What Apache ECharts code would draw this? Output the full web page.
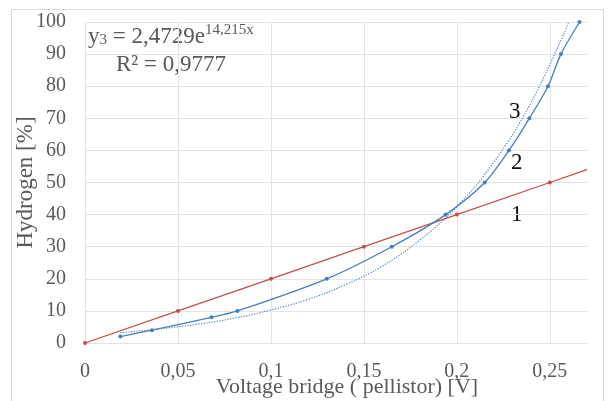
<!DOCTYPE html>
<html><head><meta charset="utf-8">
<script src="https://cdn.jsdelivr.net/npm/echarts@6/dist/echarts.min.js"></script>
<style>html,body{margin:0;padding:0;background:#fff}#c{width:613px;height:401px}</style>
</head><body><div id="c"></div>
<script>
// Series 1 (red, linear)
const s1X = [0, 0.05, 0.1, 0.15, 0.2, 0.25, 0.27];
const s1Y = [0, 10, 20, 30, 40, 50, 54];
const s1Marked = [true, true, true, true, true, true, false];
// Series 2 (blue, measured)
const s2X = [0.019, 0.036, 0.068, 0.082, 0.130, 0.165, 0.194, 0.215, 0.228, 0.239, 0.249, 0.256, 0.266];
const s2Y = [2, 4, 8, 10, 20, 30, 40, 50, 60, 70, 80, 90, 100];
// Series 3 (dotted exponential trend)
const s3X = [0.019, 0.04, 0.06, 0.08, 0.1, 0.12, 0.14, 0.16, 0.18, 0.2, 0.22, 0.24, 0.26];
const s3Y = [3.2, 4.4, 5.8, 7.7, 10.3, 13.6, 18.1, 24.0, 32.0, 42.5, 56.4, 75.0, 99.6];
const xTicks = [0, 0.05, 0.1, 0.15, 0.2, 0.25];
const yTicks = [0, 10, 20, 30, 40, 50, 60, 70, 80, 90, 100];

const FONT = '"Liberation Serif","Times New Roman",serif';
const GRAY = '#595959';
const BLUE = '#4a7ebb';
const RED = '#c0504d';
const GRID = '#e3e3e3';

const chart = echarts.init(document.getElementById('c'), null, {renderer: 'canvas'});
chart.setOption({
  animation: false,
  backgroundColor: '#fff',
  grid: {left: 85, right: 26, top: 22, bottom: 58, containLabel: false, outerBoundsMode: 'none'},
  xAxis: {
    type: 'value', min: 0, max: 0.27, interval: 0.05,
    axisLine: {show: false}, axisTick: {show: false},
    splitLine: {show: true, lineStyle: {color: [GRID, GRID, GRID, GRID, GRID, GRID, 'rgba(0,0,0,0)'], width: 1}},
    axisLabel: {
      color: GRAY, fontFamily: FONT, fontSize: 20, margin: 19,
      showMaxLabel: false,
      formatter: v => (xTicks.some(t => Math.abs(t - v) < 1e-9) ? String(+v.toFixed(2)).replace('.', ',') : '')
    },
    name: 'Voltage bridge ( pellistor) [V]', nameLocation: 'middle', nameGap: 33, nameMoveOverlap: false,
    nameTextStyle: {color: GRAY, fontFamily: FONT, fontSize: 22, padding: [0, 0, 0, 22]}
  },
  yAxis: {
    type: 'value', min: 0, max: 100, interval: 10,
    axisLine: {show: false}, axisTick: {show: false},
    splitLine: {show: true, lineStyle: {color: GRID, width: 1}},
    axisLabel: {color: GRAY, fontFamily: FONT, fontSize: 20, margin: 19,
      formatter: v => (yTicks.includes(v) ? String(v) : '')},
    name: 'Hydrogen [%]', nameLocation: 'middle', nameGap: 48, nameMoveOverlap: false,
    nameTextStyle: {color: GRAY, fontFamily: FONT, fontSize: 23}
  },
  series: [
    {
      type: 'line', data: s1X.map((x, i) => ({value: [x, s1Y[i]], symbol: s1Marked[i] ? 'circle' : 'none'})),
      symbol: 'circle', symbolSize: 4, showSymbol: true,
      lineStyle: {color: RED, width: 1.3}, itemStyle: {color: RED}, z: 2
    },
    {
      type: 'line', data: s2X.map((x, i) => [x, s2Y[i]]), smooth: 0.3,
      symbol: 'circle', symbolSize: 4,
      lineStyle: {color: BLUE, width: 1.3}, itemStyle: {color: BLUE}, z: 3
    },
    {
      type: 'line', data: s3X.map((x, i) => [x, s3Y[i]]), smooth: 0.4, showSymbol: false,
      lineStyle: {color: BLUE, width: 1.2, type: [1.2, 1.5]}, z: 1
    }
  ],
  graphic: [
    {type: 'rect', shape: {x: 11.5, y: 9.5, width: 592, height: 400}, style: {fill: 'none', stroke: '#d9d9d9', lineWidth: 1}, silent: true, z: -1},
    {type: 'text', left: 88, top: 23, style: {
      text: '{a|y}{s|3}{a| = 2,4729e}{p|14,215x}',
      rich: {
        a: {fontFamily: FONT, fontSize: 23, fill: GRAY, verticalAlign: 'bottom'},
        s: {fontFamily: FONT, fontSize: 15, fill: GRAY, padding: [9, 0, 0, 0], verticalAlign: 'bottom'},
        p: {fontFamily: FONT, fontSize: 15, fill: GRAY, padding: [0, 0, 10, 0], verticalAlign: 'bottom'}
      }
    }},
    {type: 'text', left: 116, top: 53, style: {text: 'R² = 0,9777', fontFamily: FONT, fontSize: 23, fill: GRAY}},
    {type: 'text', left: 509, top: 100, style: {text: '3', fontFamily: FONT, fontSize: 23, fill: '#111'}},
    {type: 'text', left: 511, top: 151, style: {text: '2', fontFamily: FONT, fontSize: 23, fill: '#111'}},
    {type: 'text', left: 511, top: 203, style: {text: '1', fontFamily: FONT, fontSize: 23, fill: '#111'}}
  ]
});
</script></body></html>
